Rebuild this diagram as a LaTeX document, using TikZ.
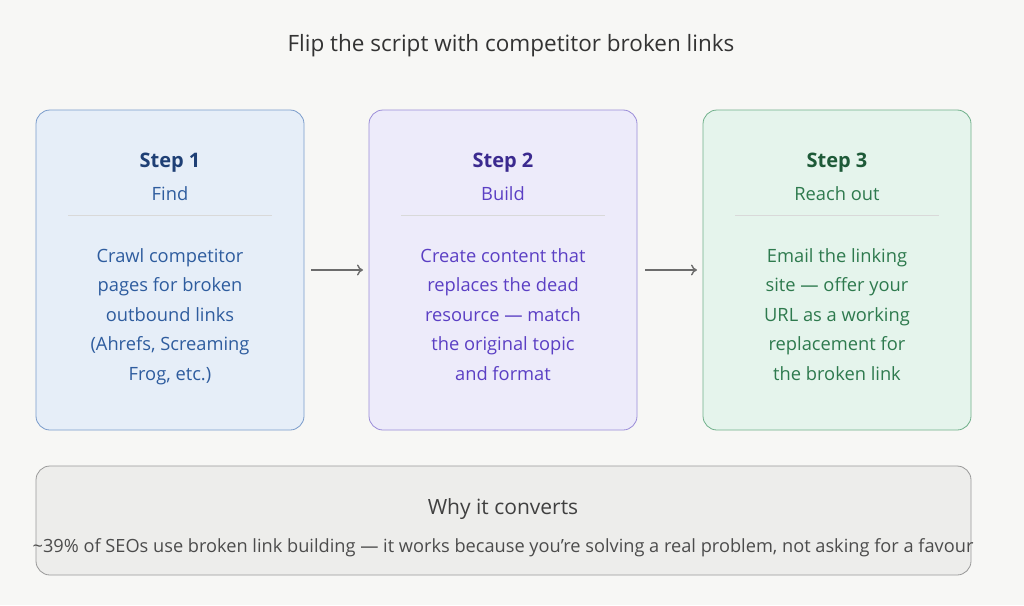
\documentclass[tikz,border=0pt]{standalone}
\usepackage{fontspec}
\setmainfont{Open Sans}
\usetikzlibrary{arrows.meta}
\begin{document}
\begin{tikzpicture}[x=1pt,y=-1pt,
 box/.style={rounded corners=14pt,line width=0.8pt},
 tx/.style={align=center,font=\fontsize{18.3}{29.5}\selectfont},
 hd/.style={font=\fontsize{20}{22}\selectfont\bfseries},
 sb/.style={font=\fontsize{18.3}{20}\selectfont},
 arr/.style={-{To[length=6pt,width=11pt]},line width=1.4pt,draw=gray!85!black}]
\definecolor{bg}{HTML}{F7F7F5}
\definecolor{fa}{HTML}{E6EEF8}\definecolor{ba}{HTML}{7A9CCB}\definecolor{ta}{HTML}{2E5C9E}\definecolor{ha}{HTML}{1E3F75}
\definecolor{fb}{HTML}{EDEBFA}\definecolor{bb}{HTML}{9A8CD8}\definecolor{tb}{HTML}{5B3FC4}\definecolor{hb}{HTML}{3B2A8F}
\definecolor{fc}{HTML}{E5F4EC}\definecolor{bc}{HTML}{6FB08A}\definecolor{tc}{HTML}{2E7A4E}\definecolor{hc}{HTML}{1E5A38}
\fill[bg] (0,0) rectangle (1024,605);
\useasboundingbox (0,0) rectangle (1024,605);
\node[font=\fontsize{22.5}{24}\selectfont,text=black!80] (title) at (511,46) {Flip the script with competitor broken links};
\foreach \i/\x/\f/\b/\t/\h/\s/\n/\body in {
 a/36/fa/ba/ta/ha/1/Find/{Crawl competitor\\pages for broken\\outbound links\\(Ahrefs, Screaming\\Frog, etc.)},
 b/369/fb/bb/tb/hb/2/Build/{Create content that\\replaces the dead\\resource — match\\the original topic\\and format},
 c/703/fc/bc/tc/hc/3/Reach out/{Email the linking\\site — offer your\\URL as a working\\replacement for\\the broken link}}{
 \draw[box,fill=\f,draw=\b] (\x,110) rectangle ++(268,320);
 \node (box\i) at (\x+134,270) {};
 \node[hd,text=\h] (h\i) at (\x+134,163) {Step \s};
 \node[sb,text=\t] (s\i) at (\x+134,194) {\n};
 \draw[black!15,line width=0.8pt] (\x+32,215) -- (\x+236,215);
 \node[tx,text=\t,anchor=north] (t\i) at (\x+134,245) {\body};
}
\coordinate (a1) at (311,270); \coordinate (a2) at (363,270);
\coordinate (b1) at (645,270); \coordinate (b2) at (697,270);
\draw[arr] (a1) -- (a2);
\draw[arr] (b1) -- (b2);
\draw[box,fill=black!4!bg,draw=black!40] (36,466) rectangle (971,575);
\node[font=\fontsize{21}{24}\selectfont,text=black!75] (why) at (503,509) {Why it converts};
\node[font=\fontsize{18.2}{20}\selectfont,text=black!70] (wt) at (503,548) {\textasciitilde39\% of SEOs use broken link building — it works because you’re solving a real problem, not asking for a favour};
\end{tikzpicture}
\end{document}
